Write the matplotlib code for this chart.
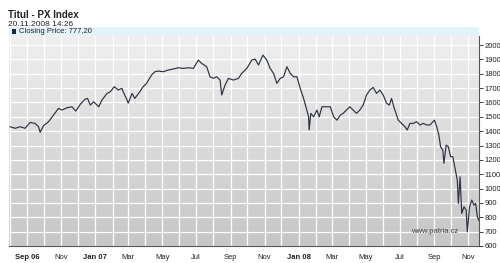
import numpy as np
import pandas as pd
import matplotlib
matplotlib.use("Agg")
import matplotlib.pyplot as plt
from matplotlib.patches import Rectangle

# closing prices
dates = ["2006-08-01", "2006-08-10", "2006-08-19", "2006-08-28", "2006-09-06", "2006-09-15",
         "2006-09-21", "2006-09-24", "2006-09-30", "2006-10-09", "2006-10-18", "2006-10-27",
         "2006-11-02", "2006-11-11", "2006-11-20", "2006-11-27", "2006-12-05", "2006-12-14",
         "2006-12-18", "2006-12-23", "2006-12-29", "2007-01-07", "2007-01-13", "2007-01-22",
         "2007-01-28", "2007-02-04", "2007-02-11", "2007-02-18", "2007-02-20", "2007-02-27",
         "2007-03-01", "2007-03-08", "2007-03-13", "2007-03-22", "2007-03-28", "2007-04-03",
         "2007-04-12", "2007-04-18", "2007-04-24", "2007-05-03", "2007-05-12", "2007-05-21",
         "2007-05-30", "2007-06-08", "2007-06-17", "2007-06-26", "2007-07-05", "2007-07-11",
         "2007-07-20", "2007-07-26", "2007-08-01", "2007-08-07", "2007-08-13", "2007-08-16",
         "2007-08-22", "2007-08-28", "2007-09-06", "2007-09-15", "2007-09-21", "2007-09-30",
         "2007-10-09", "2007-10-15", "2007-10-21", "2007-10-29", "2007-11-05", "2007-11-11",
         "2007-11-17", "2007-11-23", "2007-11-29", "2007-12-05", "2007-12-11", "2007-12-17",
         "2007-12-23", "2007-12-29", "2008-01-04", "2008-01-10", "2008-01-15", "2008-01-19",
         "2008-01-20", "2008-01-23", "2008-01-28", "2008-02-03", "2008-02-07", "2008-02-12",
         "2008-02-21", "2008-02-27", "2008-03-04", "2008-03-10", "2008-03-16", "2008-03-21",
         "2008-03-27", "2008-04-02", "2008-04-08", "2008-04-14", "2008-04-20", "2008-04-26",
         "2008-05-02", "2008-05-08", "2008-05-14", "2008-05-20", "2008-05-26", "2008-06-01",
         "2008-06-07", "2008-06-12", "2008-06-16", "2008-06-20", "2008-06-24", "2008-06-28",
         "2008-07-04", "2008-07-10", "2008-07-14", "2008-07-19", "2008-07-25", "2008-07-31",
         "2008-08-06", "2008-08-12", "2008-08-18", "2008-08-24", "2008-09-01", "2008-09-05",
         "2008-09-09", "2008-09-12", "2008-09-16", "2008-09-18", "2008-09-22", "2008-09-26",
         "2008-09-30", "2008-10-04", "2008-10-08", "2008-10-12", "2008-10-14", "2008-10-17",
         "2008-10-20", "2008-10-24", "2008-10-28", "2008-10-30", "2008-11-03", "2008-11-07",
         "2008-11-11", "2008-11-14", "2008-11-17", "2008-11-20"]

closes = [1431, 1420, 1431, 1420, 1461, 1454,
          1431, 1392, 1438, 1466, 1512, 1559,
          1547, 1563, 1570, 1540, 1587, 1624,
          1628, 1582, 1605, 1570, 1617, 1663,
          1675, 1710, 1687, 1698, 1675, 1617,
          1595, 1663, 1628, 1675, 1710, 1733,
          1791, 1814, 1819, 1814, 1826, 1833,
          1842, 1837, 1842, 1837, 1895, 1872,
          1849, 1779, 1768, 1779, 1756, 1652,
          1721, 1768, 1756, 1768, 1803, 1837,
          1895, 1902, 1861, 1930, 1895, 1837,
          1803, 1733, 1768, 1779, 1849, 1803,
          1779, 1779, 1698, 1628, 1559, 1500,
          1408, 1524, 1500, 1547, 1500, 1570,
          1570, 1570, 1500, 1477, 1512, 1524,
          1547, 1570, 1547, 1524, 1547, 1582,
          1652, 1686, 1705, 1663, 1686, 1652,
          1594, 1582, 1628, 1570, 1524, 1477,
          1454, 1431, 1408, 1454, 1454, 1466,
          1443, 1454, 1443, 1443, 1477, 1431,
          1373, 1291, 1268, 1176, 1303, 1291,
          1222, 1222, 1141, 1059, 897, 1082,
          827, 873, 850, 699, 873, 920,
          885, 897, 804, 777.2]

yticks = list(range(600, 2001, 100))
label_months = ["2006-09-01", "2006-11-01", "2007-01-01", "2007-03-01", "2007-05-01",
                "2007-07-01", "2007-09-01", "2007-11-01", "2008-01-01", "2008-03-01",
                "2008-05-01", "2008-07-01", "2008-09-01", "2008-11-01"]
month_labels = ["Sep 06", "Nov", "Jan 07", "Mar", "May", "Jul", "Sep",
                "Nov", "Jan 08", "Mar", "May", "Jul", "Sep", "Nov"]

x = pd.to_datetime(dates)

plt.rcParams["font.family"] = ["Liberation Sans", "DejaVu Sans"]

fig = plt.figure(figsize=(5, 2.63), dpi=100)
fig.patch.set_facecolor("white")

W, H = 500, 263
ax = fig.add_axes([9 / W, 17 / H, 470 / W, 210 / H])

# grey gradient behind the plot
grad = np.linspace(0, 1, 256).reshape(-1, 1)
ax.imshow(grad, cmap=matplotlib.colors.LinearSegmentedColormap.from_list("g", ["#efefef", "#c6c6c6"]),
          extent=[0, 1, 0, 1], transform=ax.transAxes, aspect="auto", zorder=0)

ax.set_xlim(pd.Timestamp("2006-07-30"), pd.Timestamp("2008-11-20"))
ax.set_ylim(600, 2063)

# white grid, one line per month and per 100 points
for m in pd.date_range("2006-08-01", "2008-11-01", freq="MS"):
    ax.axvline(m, color="white", lw=0.9, zorder=1)
for v in yticks:
    ax.axhline(v, color="white", lw=0.9, zorder=1)

ax.plot(x, closes, color="#2b3142", lw=0.85, zorder=3)

for s in ["left", "top"]:
    ax.spines[s].set_visible(False)
ax.spines["right"].set_color("#555555")
ax.spines["bottom"].set_color("#555555")
ax.spines["right"].set_zorder(4)
ax.spines["bottom"].set_zorder(4)

ax.yaxis.tick_right()
ax.set_yticks(yticks)
ax.set_yticklabels([str(v) for v in yticks])
ax.tick_params(axis="y", length=3, width=0.6, pad=1, labelsize=5.5, colors="#222222")

ax.set_xticks(pd.to_datetime(label_months))
ax.set_xticklabels(month_labels)
ax.tick_params(axis="x", length=0, pad=5.5, labelsize=5.5, colors="#222222")
for lab in ax.get_xticklabels():
    if " " in lab.get_text():
        lab.set_fontweight("bold")

# watermark
ax.text(0.905, 0.07, "www.patria.cz", transform=ax.transAxes, ha="center", va="center",
        fontsize=5.5, color="#444444", zorder=5)

# light blue legend band above the plot
fig.patches.append(Rectangle((9 / W, 227 / H), 470 / W, 9 / H, transform=fig.transFigure,
                             facecolor="#e4f2fa", edgecolor="none"))
fig.patches.append(Rectangle((12 / W, 229 / H), 4 / W, 5 / H, transform=fig.transFigure,
                             facecolor="#1c2440", edgecolor="none"))
fig.text(19 / W, 231.5 / H, "Closing Price: 777,20", fontsize=5.5, va="center", color="#222222")

fig.text(8 / W, 248 / H, "Titul - PX Index", fontsize=7, fontweight="bold", va="center", color="#222222")
fig.text(8 / W, 238 / H, "20.11.2008 14:26", fontsize=6, va="center", color="#222222")

plt.savefig("out.png", dpi=100)
